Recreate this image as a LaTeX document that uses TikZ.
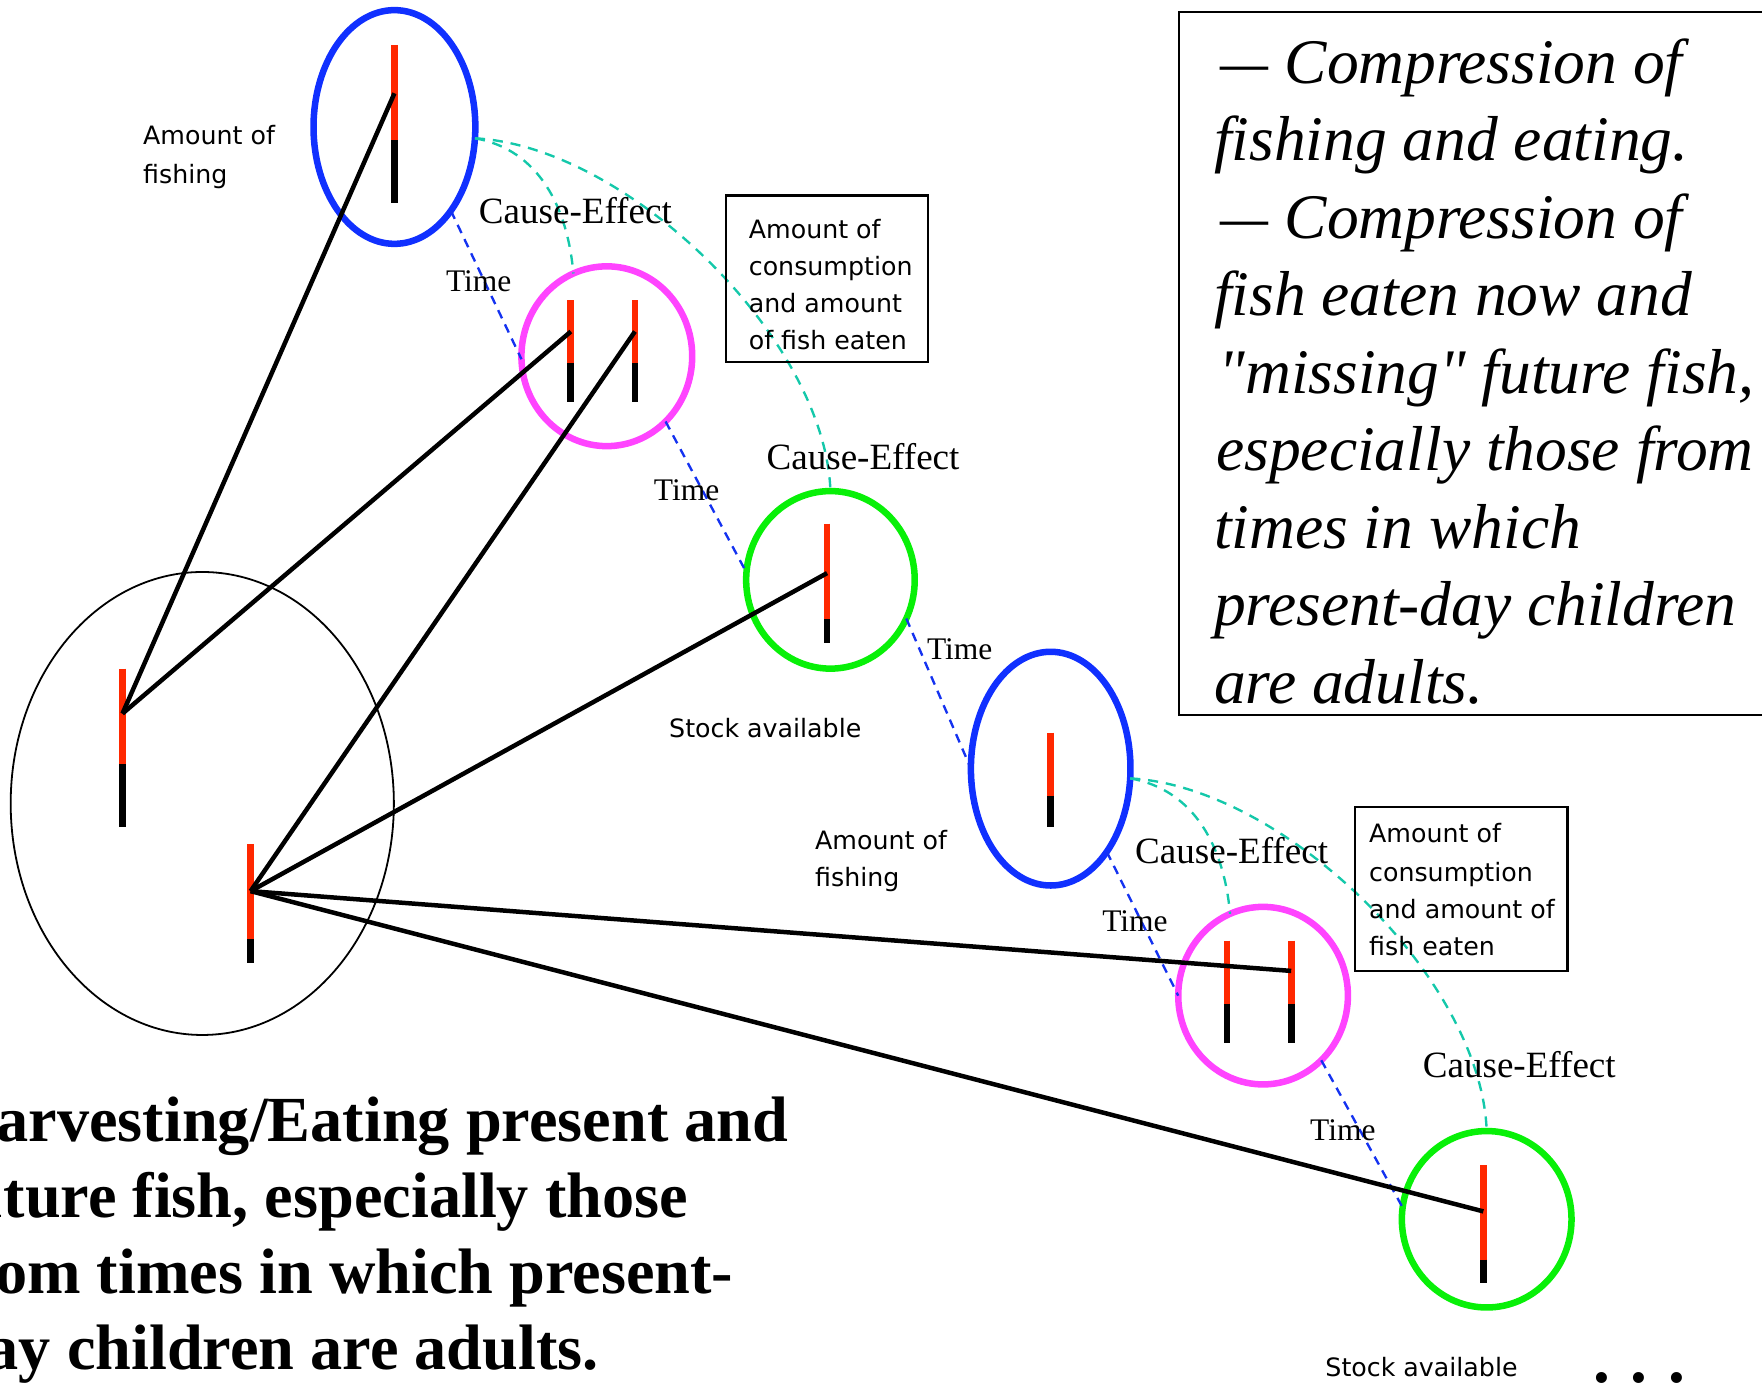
\documentclass[tikz,border=0pt]{standalone}
\usepackage{fontspec}
\usepackage{graphicx}
\setmainfont{Liberation Serif}[Ligatures=TeXOff]
\newfontfamily\lsans{DejaVu Sans}
\usetikzlibrary{shapes.geometric}
\definecolor{cblue}{RGB}{16,48,255}
\definecolor{cred}{RGB}{255,40,0}
\definecolor{cmag}{RGB}{255,68,255}
\definecolor{cgreen}{RGB}{8,240,8}
\definecolor{cteal}{RGB}{20,200,170}
\definecolor{cdash}{RGB}{20,50,240}
\tikzset{
  ring/.style={ellipse, draw, line width=2.9pt, inner sep=0pt, outer sep=0pt},
  bigring/.style={ellipse, draw=black, line width=0.8pt, inner sep=0pt, outer sep=0pt},
  redbar/.style={draw=cred, line width=3pt},
  blkbar/.style={draw=black, line width=3pt},
  link/.style={draw=black, line width=2pt},
  timeline/.style={draw=cdash, line width=1.05pt, dash pattern=on 4pt off 3pt},
  causal/.style={draw=cteal, line width=1.05pt, dash pattern=on 4.5pt off 3.5pt},
  sanslbl/.style={font=\lsans\fontsize{11.25}{14}\selectfont, inner sep=0pt, anchor=base west},
  celbl/.style={font=\fontsize{16.5}{20}\selectfont, inner sep=0pt, anchor=base},
  timelbl/.style={font=\fontsize{14}{17}\selectfont, inner sep=0pt, anchor=base},
  itline/.style={font=\fontsize{28.25}{34}\selectfont\itshape, inner sep=0pt, anchor=base west},
  bdline/.style={font=\fontsize{28.6}{34}\selectfont\bfseries, inner sep=0pt, anchor=base west},
  infobox/.style={draw=black, line width=1pt, inner sep=0pt, outer sep=0pt},
}
\newcommand\fishbar[4]{\draw[redbar] (#1,#2) -- (#1,#3); \draw[blkbar] (#1,#3) -- (#1,#4);}
\newcommand\longdash{\scalebox{0.85}[1]{—}}
\begin{document}
\begin{tikzpicture}[x=0.5pt,y=-0.5pt]
\useasboundingbox (0,0) rectangle (1568,1233);

% ellipses
\node[bigring, minimum width=170.5pt, minimum height=206pt] (big) at (180,715) {};
\node[ring, draw=cblue, minimum width=72pt, minimum height=104pt] (b1) at (351,113) {};
\node[ring, draw=cmag, minimum width=76pt, minimum height=80pt] (p1) at (540,317) {};
\node[ring, draw=cgreen, minimum width=75pt, minimum height=79pt] (g1) at (739,516) {};
\node[ring, draw=cblue, minimum width=71pt, minimum height=104pt] (b2) at (935,684) {};
\node[ring, draw=cmag, minimum width=75.5pt, minimum height=79pt] (p2) at (1124,886) {};
\node[ring, draw=cgreen, minimum width=75.5pt, minimum height=78.5pt] (g2) at (1323,1085) {};

% bars
\fishbar{351}{40}{125}{181}
\fishbar{508}{267}{323}{358}
\fishbar{565}{267}{323}{358}
\fishbar{736}{466}{551}{572}
\fishbar{935}{652}{708}{736}
\fishbar{1092}{837}{893}{928}
\fishbar{1149}{837}{893}{928}
\fishbar{1320}{1037}{1121}{1142}
\fishbar{109}{595}{680}{736}
\fishbar{223}{751}{836}{857}

% connector end points on the bars
\coordinate (cb1) at (351,83);
\coordinate (cp1a) at (508,295);
\coordinate (cp1b) at (565,295);
\coordinate (cg1) at (736,510);
\coordinate (cp2b) at (1149,864);
\coordinate (cg2) at (1320,1078);
\coordinate (cA) at (109,635);
\coordinate (cB) at (223,793);

% time lines
\draw[timeline] (b1.-56) -- (p1.182);
\draw[timeline] (p1.-48.6) -- (g1.175);
\draw[timeline] (g1.-27) -- (b2.180);
\draw[timeline] (b2.-56) -- (p2.180);
\draw[timeline] (p2.-48) -- (g2.172);

% cause-effect curves
\draw[causal] (b1.-8) to[out=-10, in=95, looseness=1] (p1.112);
\draw[causal] (b1.-8) to[out=-3, in=92, looseness=0.78] (g1.90);
\draw[causal] (b2.-7) to[out=-10, in=95, looseness=1] (p2.112);
\draw[causal] (b2.-7) to[out=-3, in=92, looseness=0.78] (g2.90);

% links
\draw[link] (cA) -- (cb1);
\draw[link] (cA) -- (cp1a);
\draw[link] (cB) -- (cp1b);
\draw[link] (cB) -- (cg1);
\draw[link] (cB) -- (cp2b);
\draw[link] (cB) -- (cg2);

% sans labels
\node[sanslbl] (af1a) at (127,129) {Amount of};
\node[sanslbl] (af1b) at (127,163) {fishing};
\node[sanslbl] (af2a) at (725,756) {Amount of};
\node[sanslbl] (af2b) at (725,789) {fishing};
\node[sanslbl, anchor=base] (sa1) at (681,656) {Stock available};
\node[sanslbl, anchor=base] (sa2) at (1265,1225) {Stock available};

% consumption boxes
\node[infobox, minimum width=90pt, minimum height=74pt] (box1) at (736,248) {};
\node[sanslbl] (bx1a) at (666,212) {Amount of};
\node[sanslbl] (bx1b) at (666,245) {consumption};
\node[sanslbl] (bx1c) at (666,278) {and amount};
\node[sanslbl] (bx1d) at (666,311) {of fish eaten};
\node[infobox, minimum width=94.5pt, minimum height=73pt] (box2) at (1300.5,791) {};
\node[sanslbl] (bx2a) at (1218,750) {Amount of};
\node[sanslbl] (bx2b) at (1218,784) {consumption};
\node[sanslbl] (bx2c) at (1218,817) {and amount of};
\node[sanslbl] (bx2d) at (1218,850) {fish eaten};

% cause-effect and time labels
\node[celbl] (ce1) at (512,199) {Cause-Effect};
\node[celbl] (ce2) at (768,418) {Cause-Effect};
\node[celbl] (ce3) at (1096,768) {Cause-Effect};
\node[celbl] (ce4) at (1352,959) {Cause-Effect};
\node[timelbl] (t1) at (426,259) {Time};
\node[timelbl] (t2) at (611,445) {Time};
\node[timelbl] (t3) at (854,587) {Time};
\node[timelbl] (t4) at (1010,829) {Time};
\node[timelbl] (t5) at (1195,1015) {Time};

% right info box
\node[infobox, anchor=north west, minimum width=300pt, minimum height=312.5pt] (rbox) at (1049,11) {};
\node[itline] (r1) at (1086,74) {\longdash{} Compression of};
\node[itline] (r2) at (1080,143) {fishing and eating.};
\node[itline] (r3) at (1086,212) {\longdash{} Compression of};
\node[itline] (r4) at (1080,281) {fish eaten now and};
\node[itline] (r5) at (1084,350) {"missing" future fish,};
\node[itline] (r6) at (1082,419) {especially those from};
\node[itline] (r7) at (1080,488) {times in which};
\node[itline] (r8) at (1080,557) {present-day children};
\node[itline] (r9) at (1080,626) {are adults.};

% bottom left bold text
\node[bdline] (h1) at (-48,1016) {Harvesting/Eating present and};
\node[bdline] (h2) at (-48,1083) {future fish, especially those};
\node[bdline] (h3) at (-48,1151) {from times in which present-};
\node[bdline] (h4) at (-44,1219) {day children are adults.};

% ellipsis
\node[font=\fontsize{30}{36}\selectfont\bfseries, inner sep=0pt, anchor=base west] (dots) at (1418,1230) {.\kern9pt.\kern9pt.};
\end{tikzpicture}
\end{document}
